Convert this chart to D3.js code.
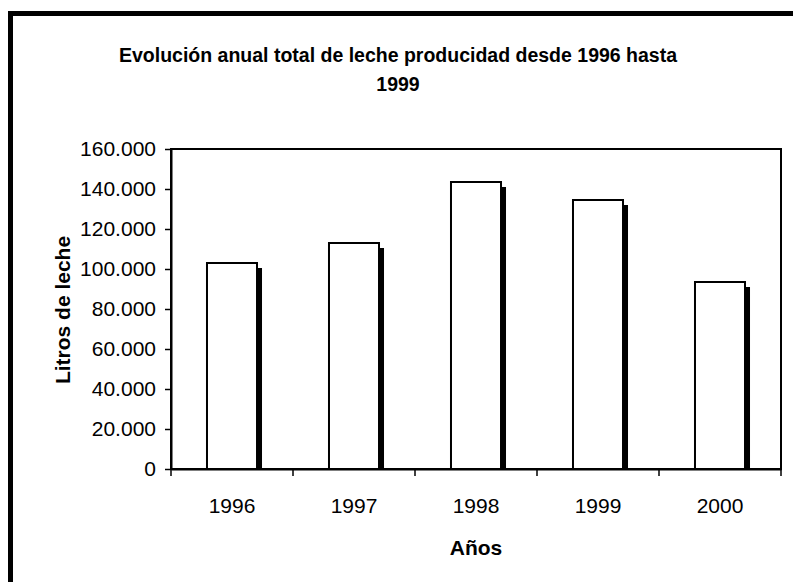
<html>
<head>
<script src="https://d3js.org/d3.v7.min.js"></script>
<style>
  body { margin: 0; background: #fff; }
  text { font-family: "Liberation Sans", Arial, sans-serif; fill: #000; }
</style>
</head>
<body>
<svg width="793" height="582"></svg>
<script>
// chart data
var years = ["1996", "1997", "1998", "1999", "2000"];
var litros = [103000, 113000, 143500, 134500, 93500];
var yTicks = [0, 20000, 40000, 60000, 80000, 100000, 120000, 140000, 160000];

var svg = d3.select("svg");

// outer frame (only top/left visible, rest runs off the picture)
svg.append("rect")
  .attr("x", 10.5).attr("y", 13.5)
  .attr("width", 900).attr("height", 700)
  .attr("fill", "#fff").attr("stroke", "#000").attr("stroke-width", 5);

var pLeft = 171, pRight = 781, pTop = 149, pBottom = 469;

var x = d3.scaleBand().domain(years).range([pLeft, pRight]);
var xBar = d3.scaleBand().domain(years).range([pLeft, pRight])
  .paddingInner(0.59).paddingOuter(0.295);
var y = d3.scaleLinear().domain([0, 160000]).range([pBottom, pTop]);

var es = d3.formatLocale({decimal: ",", thousands: ".", grouping: [3], currency: ["", ""]});

// plot area box
svg.append("rect")
  .attr("x", pLeft).attr("y", pTop)
  .attr("width", pRight - pLeft).attr("height", pBottom - pTop)
  .attr("fill", "#fff").attr("stroke", "#000").attr("stroke-width", 2);

var data = years.map((d, i) => ({year: d, value: litros[i]}));

// shadows
svg.append("g").selectAll("rect")
  .data(data).enter().append("rect")
    .attr("x", d => xBar(d.year) + 5)
    .attr("y", d => y(d.value) + 5)
    .attr("width", xBar.bandwidth())
    .attr("height", d => y(0) - y(d.value) - 5)
    .attr("fill", "#000");

// bars
svg.append("g").selectAll("rect")
  .data(data).enter().append("rect")
    .attr("x", d => xBar(d.year))
    .attr("y", d => y(d.value))
    .attr("width", xBar.bandwidth())
    .attr("height", d => y(0) - y(d.value))
    .attr("fill", "#fff")
    .attr("stroke", "#000")
    .attr("stroke-width", 2);

// y axis
var yAxis = svg.append("g")
  .attr("transform", "translate(" + pLeft + ",0)")
  .call(d3.axisLeft(y).tickValues(yTicks).tickFormat(es.format(",d"))
    .tickSize(6).tickSizeOuter(0).tickPadding(9));
yAxis.select(".domain").attr("stroke", "#000").attr("stroke-width", 2);
yAxis.selectAll(".tick line").attr("stroke", "#000").attr("stroke-width", 1.5);
yAxis.selectAll("text").style("font-size", "21px").attr("fill", "#000");

// x axis: labels centred in categories, ticks on boundaries
var xAxis = svg.append("g")
  .attr("transform", "translate(0," + pBottom + ")")
  .call(d3.axisBottom(x).tickSize(0).tickPadding(29));
xAxis.select(".domain").attr("stroke", "#000").attr("stroke-width", 2);
xAxis.selectAll("text").style("font-size", "21px").attr("fill", "#000");

var bounds = years.map(d => x(d)).concat([x.range()[1]]);
svg.append("g").selectAll("line")
  .data(bounds).enter().append("line")
    .attr("x1", d => d).attr("x2", d => d)
    .attr("y1", pBottom).attr("y2", pBottom + 7)
    .attr("stroke", "#000").attr("stroke-width", 1.5);

// title
var title = svg.append("text")
  .attr("text-anchor", "middle")
  .style("font-size", "19.5px").style("font-weight", "bold");
title.append("tspan").attr("x", 398).attr("y", 62)
  .text("Evolución anual total de leche producidad desde 1996 hasta");
title.append("tspan").attr("x", 398).attr("y", 91).text("1999");

// axis titles
svg.append("text")
  .attr("transform", "translate(70,310)rotate(-90)")
  .attr("text-anchor", "middle")
  .style("font-size", "21px").style("font-weight", "bold")
  .text("Litros de leche");

svg.append("text")
  .attr("x", 476).attr("y", 555)
  .attr("text-anchor", "middle")
  .style("font-size", "21px").style("font-weight", "bold")
  .text("Años");
</script>
</body>
</html>
